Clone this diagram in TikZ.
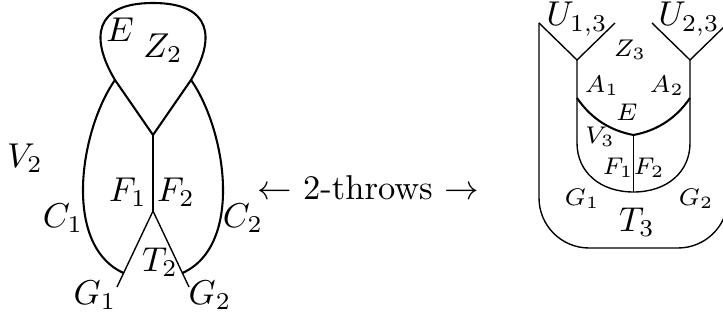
\documentclass[tikz,border=0pt]{standalone}
\usepackage{amsmath,amssymb}
\usepackage{tikz}

\begin{document}
\begin{tikzpicture}[
    x=0.0102cm, y=-0.0102cm,
    curve/.style={semithick},
    seg/.style={thin},
    lab/.style={inner sep=0pt, font=\normalsize},
    slab/.style={inner sep=0pt, font=\scriptsize},
]
\clip (0,0) rectangle (723,322);

% left picture: points
\coordinate (top)  at (153,135);
\coordinate (xl)   at (115,80);
\coordinate (xr)   at (191,80);
\coordinate (bot)  at (153,211);
\coordinate (g1)   at (117,287);
\coordinate (g2)   at (189,287);
\coordinate (k1)   at (123.5,273);
\coordinate (k2)   at (182.5,273);

% loop on top
\draw[curve] (top) -- (xl) .. controls (90,38) and (94,3) .. (153,3)
    .. controls (212,3) and (216,38) .. (xr) -- (top);
% stem and legs
\draw[seg] (top) -- (bot);
\draw[seg] (bot) -- (g1);
\draw[seg] (bot) -- (g2);
% outer curves
\draw[curve] (xl) .. controls (80,130) and (62,245) .. (k1);
\draw[curve] (xr) .. controls (226,130) and (244,245) .. (k2);

% labels left
\node[lab] (lE)  at (120,30)  {$E$};
\node[lab] (lZ2) at (163,48)  {$Z_2$};
\node[lab] (lV2) at (25,158)  {$V_2$};
\node[lab] (lF1) at (128,192) {$F_1$};
\node[lab] (lF2) at (176,192) {$F_2$};
\node[lab] (lC1) at (63,218)  {$C_1$};
\node[lab] (lC2) at (243,218) {$C_2$};
\node[lab] (lT2) at (160,262) {$T_2$};
\node[lab] (lG1) at (95,295)  {$G_1$};
\node[lab] (lG2) at (210,295) {$G_2$};

% middle
\node[lab] (mid) at (368,188) {$\leftarrow$ 2-throws $\rightarrow$};

% right picture: points
\coordinate (u1)  at (539,23);
\coordinate (v1)  at (577,60);
\coordinate (w1)  at (615,23);
\coordinate (u2)  at (652,23);
\coordinate (v2)  at (690,60);
\coordinate (w2)  at (728,23);
\coordinate (a1)  at (577,98);
\coordinate (a2)  at (690,98);
\coordinate (e)   at (633.5,135);
\coordinate (b)   at (633.5,192);

% outer U and the two Vs
\draw[seg, rounded corners=14.5pt] (u1) -- (539,248) -- (728,248) -- (w2);
\draw[seg] (u1) -- (v1) -- (w1);
\draw[seg] (u2) -- (v2) -- (w2);
% inner U
\draw[seg] (v1) -- (577,143) .. controls (577,172) and (600,192) .. (b)
    .. controls (667,192) and (690,172) .. (690,143) -- (v2);
% arc through E
\draw[curve] (a1) .. controls (592,120) and (612,131) .. (e)
    .. controls (655,131) and (675,120) .. (a2);
\draw[seg] (e) -- (b);

% labels right
\node[lab, anchor=base]  (rU1) at (577,26)  {$U_{1,3}$};
\node[lab, anchor=base]  (rU2) at (689,26)  {$U_{2,3}$};
\node[slab] (rZ3) at (630,50)  {$Z_3$};
\node[slab] (rA1) at (602,86)  {$A_1$};
\node[slab] (rA2) at (667,86)  {$A_2$};
\node[slab] (rE)  at (627,112) {$E$};
\node[slab] (rV3) at (600,137) {$V_3$};
\node[slab] (rF1) at (618,168) {$F_1$};
\node[slab] (rF2) at (649,168) {$F_2$};
\node[slab] (rG1) at (582,199) {$G_1$};
\node[slab] (rG2) at (696,199) {$G_2$};
\node[lab]  (rT3) at (637,222) {$T_3$};

\end{tikzpicture}
\end{document}
